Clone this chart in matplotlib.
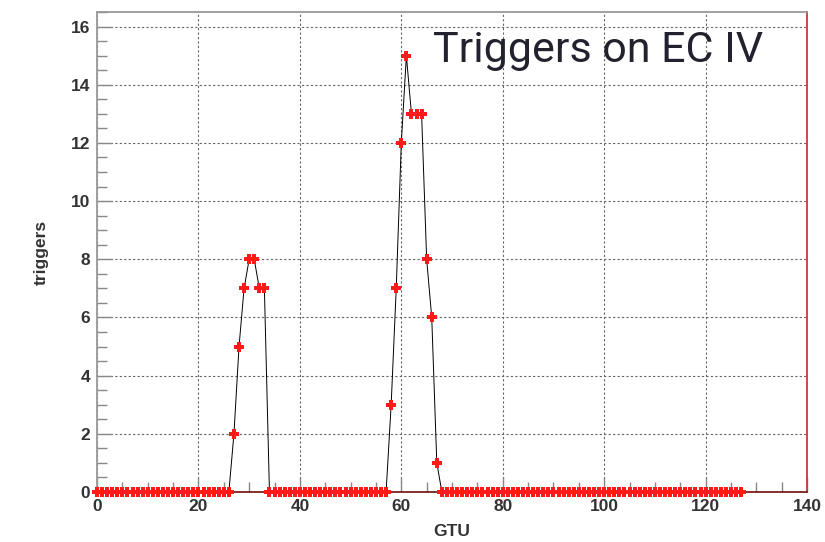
import numpy as np
import matplotlib
matplotlib.use("Agg")
import matplotlib.pyplot as plt
from matplotlib.ticker import MultipleLocator

# trigger counts per GTU (frames 0..127)
gtu = np.arange(128)
triggers = [
    0, 0, 0, 0, 0, 0, 0, 0, 0, 0, 0, 0, 0, 0, 0, 0,
    0, 0, 0, 0, 0, 0, 0, 0, 0, 0, 0, 2, 5, 7, 8, 8,
    7, 7, 0, 0, 0, 0, 0, 0, 0, 0, 0, 0, 0, 0, 0, 0,
    0, 0, 0, 0, 0, 0, 0, 0, 0, 0, 3, 7, 12, 15, 13, 13,
    13, 8, 6, 1, 0, 0, 0, 0, 0, 0, 0, 0, 0, 0, 0, 0,
    0, 0, 0, 0, 0, 0, 0, 0, 0, 0, 0, 0, 0, 0, 0, 0,
    0, 0, 0, 0, 0, 0, 0, 0, 0, 0, 0, 0, 0, 0, 0, 0,
    0, 0, 0, 0, 0, 0, 0, 0, 0, 0, 0, 0, 0, 0, 0, 0,
]
x_ticks = [0, 20, 40, 60, 80, 100, 120, 140]
y_ticks = [0, 2, 4, 6, 8, 10, 12, 14, 16]

fig = plt.figure(figsize=(8.25, 5.42), dpi=100)
ax = fig.add_axes([0.1176, 0.0923, 0.8606, 0.8855])

ax.plot(gtu, triggers, color="black", lw=0.7, zorder=3)
ax.plot(gtu, triggers, ls="none", marker="P", ms=7.5, color="#ff1a1a",
        markeredgewidth=0, zorder=4, clip_on=False)

ax.set_xlim(0, 140)
ax.set_ylim(0, 16.5)
ax.set_xticks(x_ticks)
ax.set_yticks(y_ticks)
ax.xaxis.set_minor_locator(MultipleLocator(5))
ax.yaxis.set_minor_locator(MultipleLocator(0.5))

ax.grid(True, which="major", color="#666666", ls=(0, (2, 2)), lw=0.8)
ax.tick_params(which="major", direction="in", length=11, width=1,
               color="#888888", labelsize=12.5, labelcolor="#333333",
               top=False, right=False, pad=5)
ax.tick_params(which="minor", direction="in", length=7, width=1,
               color="#888888", top=False, right=False)
for lab in ax.get_xticklabels() + ax.get_yticklabels():
    lab.set_fontweight("bold")
    lab.set_family("Liberation Sans")

ax.spines["left"].set_color("#999999")
ax.spines["top"].set_color("#999999")
ax.spines["bottom"].set_color("#7a2020")
ax.spines["right"].set_color("#c43c3c")
for s in ax.spines.values():
    s.set_linewidth(1.3)

ax.set_xlabel("GTU", fontsize=12.5, fontweight="bold", color="#333333",
              family="Liberation Sans", labelpad=7)
ax.set_ylabel("triggers", fontsize=12.5, fontweight="bold", color="#333333",
              family="Liberation Sans", labelpad=16)

fig.text(0.525, 0.885, "Triggers on EC IV", fontsize=31, color="#22222e",
         family="Roboto", ha="left", va="baseline")

fig.savefig("out.png", dpi=100)
